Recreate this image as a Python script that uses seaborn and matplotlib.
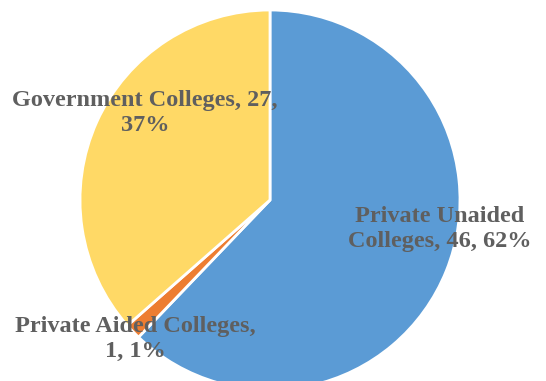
import matplotlib
matplotlib.use("Agg")
import matplotlib.pyplot as plt
import seaborn as sns

# Data
categories = ["Private Unaided Colleges", "Private Aided Colleges", "Government Colleges"]
values = [46, 1, 27]
percents = [62, 1, 37]
colors = ["#5B9BD5", "#ED7D31", "#FFD966"]

sns.set_style("white")
plt.rcParams["font.family"] = ["Liberation Serif", "DejaVu Serif"]

fig = plt.figure(figsize=(5.46, 3.81), dpi=100)
# pie centred at (270, 200) px, radius 190 px
ax = fig.add_axes([80 / 546, (381 - 200 - 190) / 381, 380 / 546, 380 / 381])
ax.pie(values, colors=colors, startangle=90, counterclock=False,
       wedgeprops=dict(edgecolor="white", linewidth=2))
ax.set_aspect("equal")
ax.set_xlim(-1, 1)
ax.set_ylim(-1, 1)
ax.axis("off")

labels = [
    (f"Private Unaided\nColleges, {values[0]}, {percents[0]}%", 440, 229),
    (f"Private Aided Colleges,\n{values[1]}, {percents[1]}%", 135, 339),
    (f"Government Colleges, {values[2]},\n{percents[2]}%", 145, 113),
]
for text, x, y in labels:
    fig.text(x / 546, 1 - y / 381, text, ha="center", va="center",
             fontsize=17.5, fontweight="bold", color="#5f5f5f", linespacing=1.3)

fig.savefig("out.png", dpi=100)
